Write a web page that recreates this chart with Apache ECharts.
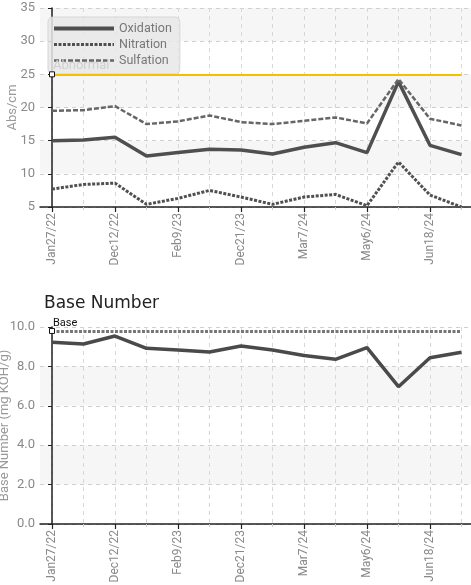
<!DOCTYPE html>
<html><head><meta charset="utf-8">
<script src="https://cdn.jsdelivr.net/npm/echarts@6/dist/echarts.min.js"></script>
<style>html,body{margin:0;padding:0;background:#fff}#c{width:471px;height:585px}</style>
</head><body><div id="c"></div>
<script>
// ---- data ----
const categories = ['Jan27/22', '', 'Dec12/22', '', 'Feb9/23', '', 'Dec21/23', '', 'Mar7/24', '', 'May6/24', '', 'Jun18/24', ''];
const labeledIdx = [0, 2, 4, 6, 8, 10, 12];
const oxidation = [15.0, 15.1, 15.5, 12.7, 13.2, 13.7, 13.6, 13.0, 14.0, 14.7, 13.2, 23.9, 14.3, 12.9];
const nitration = [7.7, 8.4, 8.6, 5.4, 6.3, 7.5, 6.5, 5.4, 6.5, 6.9, 5.2, 11.8, 6.8, 5.0];
const sulfation = [19.5, 19.6, 20.2, 17.5, 17.9, 18.8, 17.8, 17.5, 18.0, 18.5, 17.6, 24.3, 18.3, 17.3];
const baseNumber = [9.22, 9.14, 9.54, 8.92, 8.83, 8.73, 9.04, 8.83, 8.55, 8.36, 8.95, 6.97, 8.44, 8.72];
const abnormalLimit = 25;
const baseLimit = 9.8;

// ---- helpers ----
const allIdx = categories.map((c, i) => i);
const pairs = arr => arr.map((v, i) => [i, v]);
const FONT = "Roboto, 'Liberation Sans', sans-serif";
const XMIN = -0.381, XMAX = 13.302;
const lastIdx = categories.length - 1;

function xAxesFor(gi) {
  return [
    { gridIndex: gi, type: 'value', min: XMIN, max: XMAX, position: 'bottom',
      axisLine: { show: true, lineStyle: { color: '#222', width: 1.5 } },
      axisTick: { show: true, customValues: allIdx, length: 3, lineStyle: { color: '#ccc' } },
      axisLabel: { show: false },
      splitLine: { show: true, lineStyle: { color: '#d8d8d8', type: [4, 4] } } },
    { gridIndex: gi, type: 'value', min: XMIN, max: XMAX, position: 'bottom',
      axisLine: { show: false },
      axisTick: { show: true, customValues: labeledIdx, length: 5, lineStyle: { color: '#222', width: 1.2 } },
      axisLabel: { show: true, customValues: labeledIdx, rotate: 90, margin: 6,
        color: '#8a8a8a', fontSize: 12, fontFamily: FONT,
        formatter: v => categories[Math.round(v)] },
      splitLine: { show: false } }
  ];
}

const chart = echarts.init(document.getElementById('c'));
chart.setOption({
  animation: false,
  backgroundColor: '#fff',
  title: { text: 'Base Number', left: 44, top: 295, padding: 0,
    textStyle: { fontSize: 17, fontWeight: 'normal', color: '#222', fontFamily: 'DejaVu Sans' } },
  legend: {
    orient: 'vertical', left: 48, top: 17, padding: [5, 8, 7, 4], itemGap: 3,
    itemWidth: 60, itemHeight: 13,
    backgroundColor: 'rgba(232,232,232,0.85)', borderColor: '#d6d6d6', borderWidth: 1, borderRadius: 5,
    itemStyle: { opacity: 0 },
    textStyle: { color: '#777', fontSize: 12.5, fontFamily: FONT },
    data: [
      { name: 'Oxidation', lineStyle: { width: 4 } },
      { name: 'Nitration', lineStyle: { width: 3 } },
      { name: 'Sulfation', lineStyle: { width: 2.5 } }
    ]
  },
  grid: [
    { left: 40, right: 0, top: 8, height: 199, outerBoundsMode: 'none', containLabel: false },
    { left: 40, right: 0, top: 327, height: 197, outerBoundsMode: 'none', containLabel: false }
  ],
  xAxis: [...xAxesFor(0), ...xAxesFor(1)],
  yAxis: [
    { gridIndex: 0, type: 'value', min: 5, max: 35, interval: 5,
      name: 'Abs/cm', nameLocation: 'middle', nameGap: 21, nameMoveOverlap: false,
      nameTextStyle: { color: '#999', fontSize: 13, fontFamily: FONT },
      axisLine: { show: true, lineStyle: { color: '#222', width: 1.5 } },
      axisTick: { show: true, length: 4, lineStyle: { color: '#222' } },
      axisLabel: { color: '#8a8a8a', fontSize: 13, fontFamily: FONT, margin: 5 },
      splitLine: { show: true, lineStyle: { color: '#cfcfcf', type: [4, 4] } },
      splitArea: { show: true, areaStyle: { color: ['rgba(255,255,255,0)', '#f6f6f6'] } } },
    { gridIndex: 1, type: 'value', min: 0, max: 10, interval: 2,
      name: 'Base Number (mg KOH/g)', nameLocation: 'middle', nameGap: 29, nameMoveOverlap: false,
      nameTextStyle: { color: '#999', fontSize: 13, fontFamily: FONT },
      axisLine: { show: true, lineStyle: { color: '#222', width: 1.5 } },
      axisTick: { show: true, length: 4, lineStyle: { color: '#222' } },
      axisLabel: { color: '#8a8a8a', fontSize: 13, fontFamily: FONT, margin: 5, formatter: v => v.toFixed(1) },
      splitLine: { show: true, lineStyle: { color: '#cfcfcf', type: [4, 4] } },
      splitArea: { show: true, areaStyle: { color: ['rgba(255,255,255,0)', '#f6f6f6'] } } }
  ],
  series: [
    { name: 'Oxidation', type: 'line', xAxisIndex: 0, yAxisIndex: 0, showSymbol: false, symbol: 'none',
      data: pairs(oxidation), lineStyle: { color: '#4f4f4f', width: 3.5 }, itemStyle: { color: '#4f4f4f' },
      markLine: { silent: true, symbol: 'none',
        lineStyle: { color: '#f5c000', width: 2, type: 'solid' },
        label: { show: true, formatter: 'Abnormal', position: 'insideStartTop', distance: [1, 2],
          color: '#cfcfcf', fontSize: 13, fontFamily: FONT },
        data: [[{ coord: [0, abnormalLimit] }, { coord: [lastIdx, abnormalLimit] }]] },
      markPoint: { silent: true, symbol: 'rect', symbolSize: 5,
        itemStyle: { color: '#fff', borderColor: '#111', borderWidth: 1 }, label: { show: false },
        data: [{ coord: [0, abnormalLimit] }] } },
    { name: 'Nitration', type: 'line', xAxisIndex: 0, yAxisIndex: 0, showSymbol: false, symbol: 'none',
      data: pairs(nitration), lineStyle: { color: '#505050', width: 3, type: [3, 1.5] }, itemStyle: { color: '#505050' } },
    { name: 'Sulfation', type: 'line', xAxisIndex: 0, yAxisIndex: 0, showSymbol: false, symbol: 'none',
      data: pairs(sulfation), lineStyle: { color: '#666', width: 2.5, type: [5, 2] }, itemStyle: { color: '#666' } },
    { name: 'Base Number', type: 'line', xAxisIndex: 2, yAxisIndex: 1, showSymbol: false, symbol: 'none',
      data: pairs(baseNumber), lineStyle: { color: '#4a4a4a', width: 3.5 }, itemStyle: { color: '#4a4a4a' },
      markLine: { silent: true, symbol: 'none',
        lineStyle: { color: '#777', width: 3, type: [3, 1.5] },
        label: { show: true, formatter: 'Base', position: 'insideStartTop', distance: [1, 2],
          color: '#111', fontSize: 11, fontFamily: FONT },
        data: [[{ coord: [0, baseLimit] }, { coord: [lastIdx, baseLimit] }]] },
      markPoint: { silent: true, symbol: 'rect', symbolSize: 5,
        itemStyle: { color: '#fff', borderColor: '#111', borderWidth: 1 }, label: { show: false },
        data: [{ coord: [0, baseLimit] }] } }
  ]
});
</script>
</body></html>
